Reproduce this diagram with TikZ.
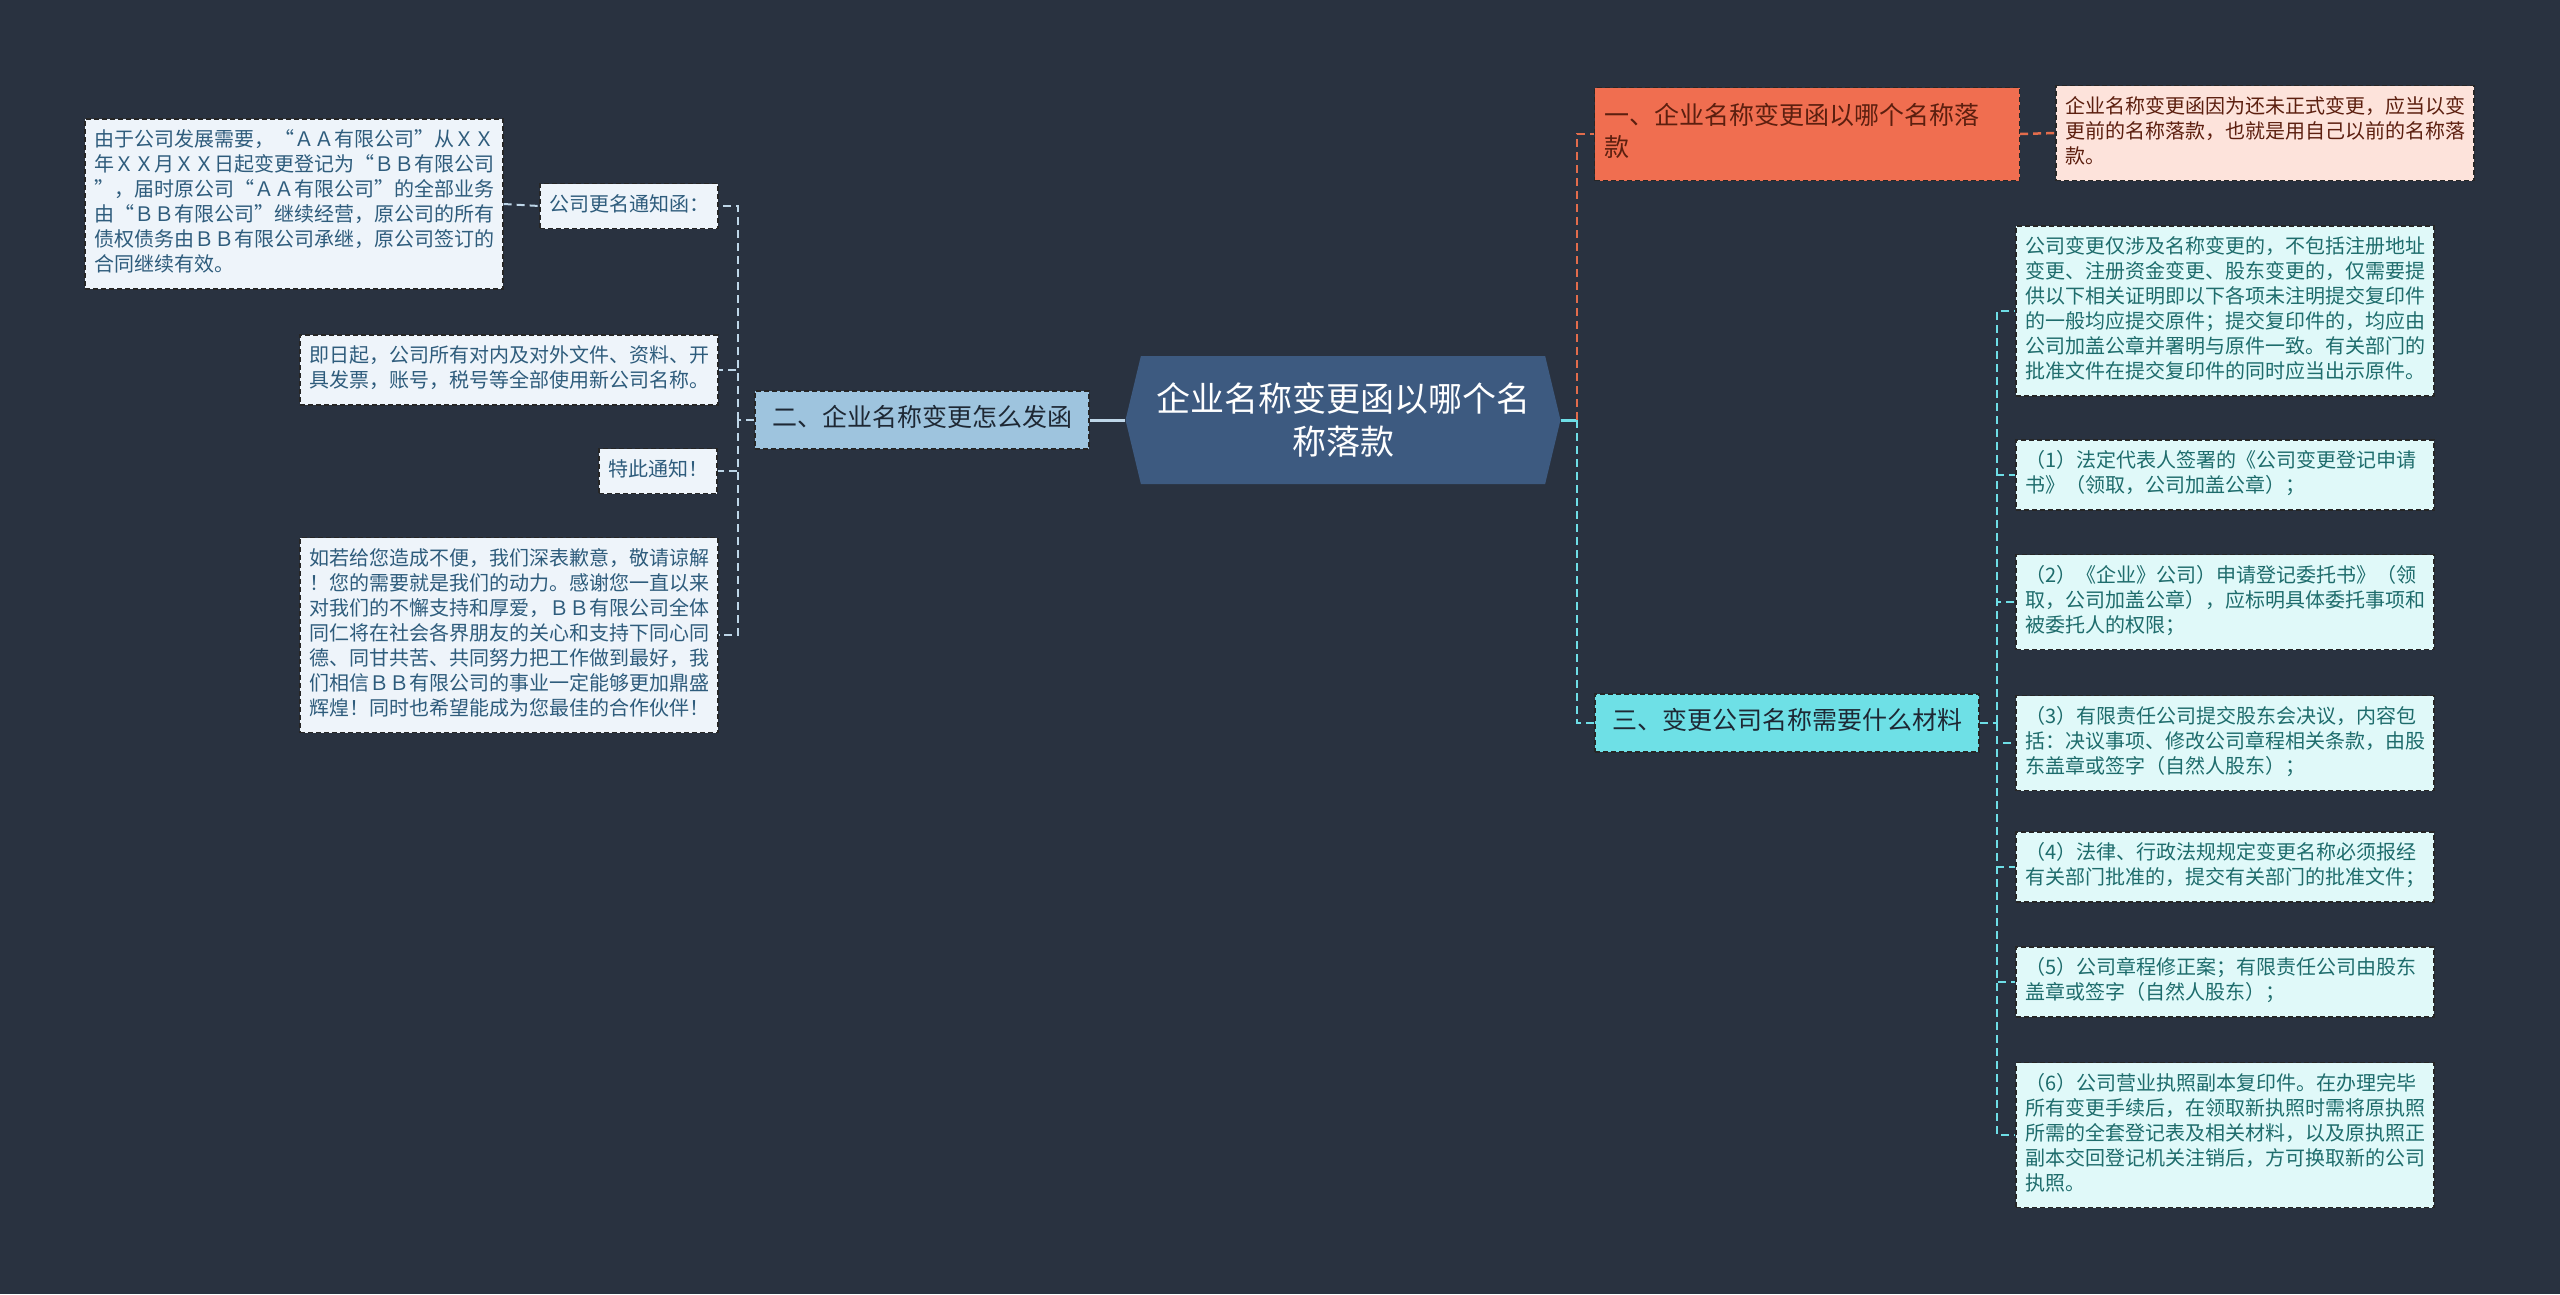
\documentclass[tikz,border=0pt]{standalone}
\usepackage{fontspec}
\setmainfont{Noto Sans CJK SC}
\usepackage{xcolor}
\usetikzlibrary{shapes.symbols}

\definecolor{bgcol}{RGB}{41,50,64}
\definecolor{rootblue}{RGB}{61,90,128}
\definecolor{branchblue}{RGB}{158,196,222}
\definecolor{leafblue}{RGB}{238,244,250}
\definecolor{leaftext}{RGB}{46,92,124}
\definecolor{orangebox}{RGB}{240,110,80}
\definecolor{orangetext}{RGB}{92,31,15}
\definecolor{pinkbox}{RGB}{253,227,219}
\definecolor{cyanbox}{RGB}{110,224,230}
\definecolor{cyanleaf}{RGB}{224,249,249}
\definecolor{cyantext}{RGB}{30,108,108}
\definecolor{darktext}{RGB}{30,40,52}
\definecolor{lline}{RGB}{190,214,232}
\definecolor{cline}{RGB}{110,222,230}
\definecolor{oline}{RGB}{226,108,76}

\begin{document}
\begin{tikzpicture}[x=1pt,y=-1pt,
  root/.style={signal, signal to=west and east, signal pointer angle=153, fill=rootblue, text=white,
    font=\fontsize{34}{43}\selectfont, minimum width=435pt, minimum height=128pt, text width=390pt, align=center, inner sep=0pt},
  branch/.style={draw=black!85, dash pattern=on 5pt off 3pt, line width=1.2pt, font=\fontsize{25}{32}\selectfont,
    inner xsep=12pt, inner ysep=13pt, execute at begin node=\strut, execute at end node=\strut},
  leaf/.style={draw=black!85, dash pattern=on 5pt off 3pt, line width=1.2pt, fill=leafblue, text=leaftext,
    font=\fontsize{20}{25}\selectfont, inner xsep=9pt, inner ysep=10pt, execute at begin node=\strut, execute at end node=\strut},
  note/.style={leaf, text width=400pt, align=left},
  mat/.style={note, fill=cyanleaf, text=cyantext},
  lsolid/.style={draw=lline, line width=3pt},
  ldash/.style={draw=lline, line width=2pt, dash pattern=on 8pt off 5pt},
  csolid/.style={draw=cline, line width=3pt},
  cdash/.style={draw=cline, line width=2.5pt, dash pattern=on 8pt off 5pt},
  odash/.style={draw=oline, line width=2.5pt, dash pattern=on 8pt off 5pt}
]
\fill[bgcol] (0,0) rectangle (2560,1294);

% Centre
\node[root] (root) at (1343,420) {企业名称变更函以哪个名\\称落款};

% Left branch
\node[branch, fill=branchblue, text=darktext, minimum width=334pt] (howto) at (922,420) {二、企业名称变更怎么发函};
\node[leaf] (notice) at (629,206) {公司更名通知函：};
\node[note] (letter) at (294,204) {由于公司发展需要，“ＡＡ有限公司”从ＸＸ\\年ＸＸ月ＸＸ日起变更登记为“ＢＢ有限公司\\”，届时原公司“ＡＡ有限公司”的全部业务\\由“ＢＢ有限公司”继续经营，原公司的所有\\债权债务由ＢＢ有限公司承继，原公司签订的\\合同继续有效。};
\node[note] (fromnow) at (509,370) {即日起，公司所有对内及对外文件、资料、开\\具发票，账号，税号等全部使用新公司名称。};
\node[leaf] (ending) at (658,471) {特此通知！};
\node[note] (apology) at (509,635) {如若给您造成不便，我们深表歉意，敬请谅解\\！您的需要就是我们的动力。感谢您一直以来\\对我们的不懈支持和厚爱，ＢＢ有限公司全体\\同仁将在社会各界朋友的关心和支持下同心同\\德、同甘共苦、共同努力把工作做到最好，我\\们相信ＢＢ有限公司的事业一定能够更加鼎盛\\辉煌！同时也希望能成为您最佳的合作伙伴！};

% Right branches
\node[branch, fill=orangebox, text=orangetext, text width=405pt, inner xsep=10pt, align=left, minimum height=93pt] (title1) at (1807,134) {一、企业名称变更函以哪个名称落\\款};
\node[note, fill=pinkbox, text=orangetext] (answer1) at (2265,133) {企业名称变更函因为还未正式变更，应当以变\\更前的名称落款，也就是用自己以前的名称落\\款。};
\node[branch, fill=cyanbox, text=darktext, minimum width=384pt] (title3) at (1787,723) {三、变更公司名称需要什么材料};

% Materials
\node[mat] (mat0) at (2225,311) {公司变更仅涉及名称变更的，不包括注册地址\\变更、注册资金变更、股东变更的，仅需要提\\供以下相关证明即以下各项未注明提交复印件\\的一般均应提交原件；提交复印件的，均应由\\公司加盖公章并署明与原件一致。有关部门的\\批准文件在提交复印件的同时应当出示原件。};
\node[mat] (mat1) at (2225,475) {（1）法定代表人签署的《公司变更登记申请\\书》（领取，公司加盖公章）；};
\node[mat] (mat2) at (2225,602) {（2）《企业》公司）申请登记委托书》（领\\取，公司加盖公章），应标明具体委托事项和\\被委托人的权限；};
\node[mat] (mat3) at (2225,743) {（3）有限责任公司提交股东会决议，内容包\\括：决议事项、修改公司章程相关条款，由股\\东盖章或签字（自然人股东）；};
\node[mat] (mat4) at (2225,867) {（4）法律、行政法规规定变更名称必须报经\\有关部门批准的，提交有关部门的批准文件；};
\node[mat] (mat5) at (2225,982) {（5）公司章程修正案；有限责任公司由股东\\盖章或签字（自然人股东）；};
\node[mat] (mat6) at (2225,1135) {（6）公司营业执照副本复印件。在办理完毕\\所有变更手续后，在领取新执照时需将原执照\\所需的全套登记表及相关材料，以及原执照正\\副本交回登记机关注销后，方可换取新的公司\\执照。};

% Connectors
\coordinate (ltrunk) at (738,420);
\coordinate (rtrunk) at (1577,420);
\coordinate (mtrunk) at (1997,723);
\draw[lsolid] (root.west) -- (howto.east);
\draw[ldash] (howto.west) -- (ltrunk);
\foreach \n in {notice,fromnow,ending,apology}
  \draw[ldash] (ltrunk) |- (\n.east);
\draw[ldash] (letter.east) -- (notice.west);
\draw[csolid] (root.east) -- (rtrunk);
\draw[odash] (rtrunk) |- (title1.west);
\draw[odash] (title1.east) -- (answer1.west);
\draw[cdash] (rtrunk) |- (title3.west);
\draw[cdash] (title3.east) -- (mtrunk);
\foreach \i in {0,...,6}
  \draw[cdash] (mtrunk) |- (mat\i.west);
\end{tikzpicture}
\end{document}
